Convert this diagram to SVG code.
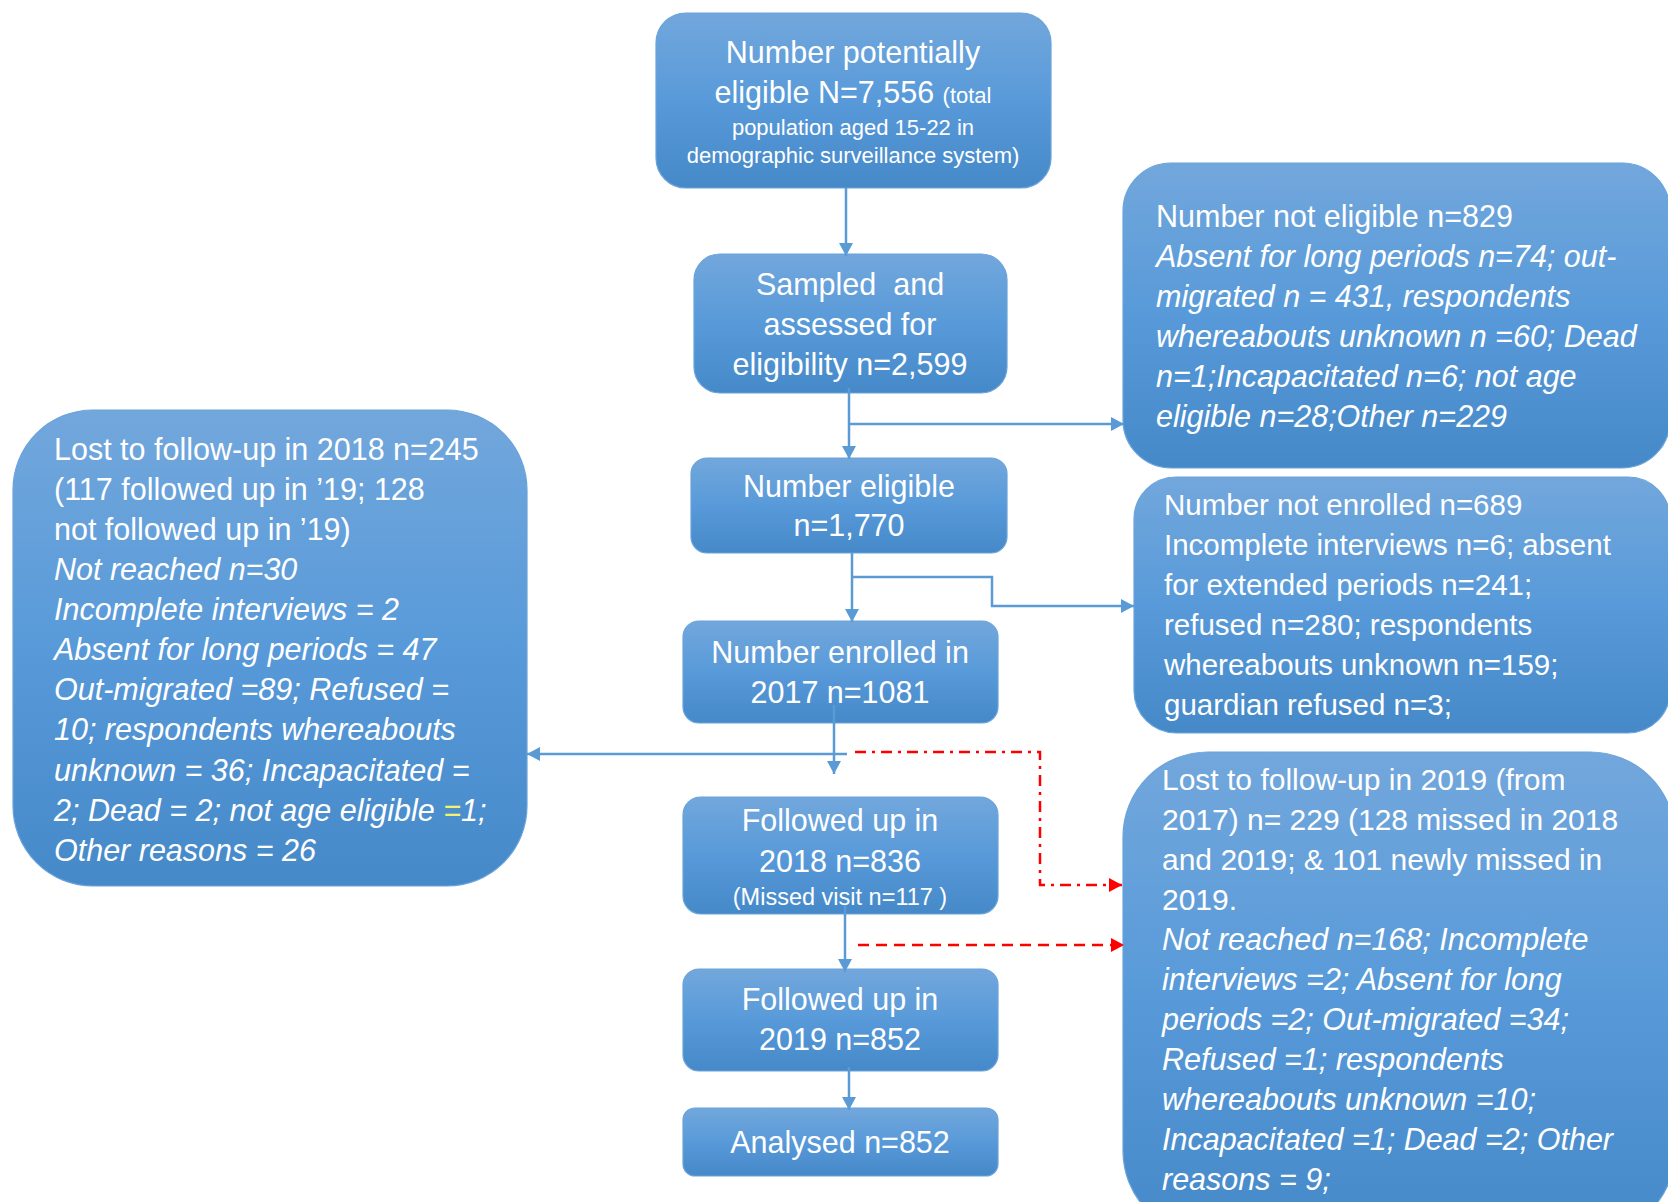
<svg xmlns="http://www.w3.org/2000/svg" width="1668" height="1202" viewBox="0 0 1668 1202">
  <defs>
    <linearGradient id="boxGrad" x1="0" y1="0" x2="0" y2="1">
      <stop offset="0" stop-color="#72A7DC"/>
      <stop offset="0.5" stop-color="#589AD9"/>
      <stop offset="1" stop-color="#4689C8"/>
    </linearGradient>
    <marker id="arrBlue" markerUnits="userSpaceOnUse" markerWidth="14" markerHeight="14" refX="13" refY="7" orient="auto">
      <path d="M0,0 L13,7 L0,14 z" fill="#5B9BD5"/>
    </marker>
    <marker id="arrRed" markerUnits="userSpaceOnUse" markerWidth="14" markerHeight="14" refX="13" refY="7" orient="auto">
      <path d="M0,0 L13,7 L0,14 z" fill="#FF0000"/>
    </marker>
  </defs>
  <style>
    .box { fill: url(#boxGrad); stroke: #6AA3DA; stroke-width: 1.2; }
    .t { font-family: "Liberation Sans", Arial, sans-serif; fill: #FFFFFF; font-size: 30.5px; }
    .c { text-anchor: middle; }
    .sm { font-size: 22px; }
    .it { font-style: italic; }
    .r30 { font-size: 30px; }
    .r295 { font-size: 29.5px; }
    .conn { fill: none; stroke: #5B9BD5; stroke-width: 2.5; }
    .red { fill: none; stroke: #FF0000; stroke-width: 2.5; }
  </style>
  <rect width="1668" height="1202" fill="#FFFFFF"/>

  <g id="node-potential">
    <rect class="box" x="656" y="13" width="395" height="175" rx="30"/>
    <text class="t c" x="853" y="63">Number potentially</text>
    <text class="t c" x="853" y="103">eligible N=7,556 <tspan class="sm">(total</tspan></text>
    <text class="t c sm" x="853" y="135">population aged 15-22 in</text>
    <text class="t c sm" x="853" y="163">demographic surveillance system)</text>
  </g>

  <g id="node-sampled">
    <rect class="box" x="694" y="254" width="313" height="139" rx="26"/>
    <text class="t c" x="850" y="295" xml:space="preserve">Sampled  and</text>
    <text class="t c" x="850" y="335">assessed for</text>
    <text class="t c" x="850" y="375">eligibility n=2,599</text>
  </g>

  <g id="node-not-eligible">
    <rect class="box" x="1123" y="163" width="547" height="305" rx="48"/>
    <text class="t" x="1156" y="227">Number not eligible n=829</text>
    <text class="t it" x="1156" y="267">Absent for long periods n=74; out-</text>
    <text class="t it" x="1156" y="307">migrated n = 431, respondents</text>
    <text class="t it" x="1156" y="347">whereabouts unknown n =60; Dead</text>
    <text class="t it" x="1156" y="387">n=1;Incapacitated n=6; not age</text>
    <text class="t it" x="1156" y="427">eligible n=28;Other n=229</text>
  </g>

  <g id="node-eligible">
    <rect class="box" x="691" y="458" width="316" height="95" rx="16"/>
    <text class="t c" x="849" y="497">Number eligible</text>
    <text class="t c" x="849" y="536">n=1,770</text>
  </g>

  <g id="node-not-enrolled">
    <rect class="box" x="1134" y="477" width="536" height="256" rx="42"/>
    <text class="t r295" x="1164" y="515">Number not enrolled n=689</text>
    <text class="t r295" x="1164" y="555">Incomplete interviews n=6; absent</text>
    <text class="t r295" x="1164" y="595">for extended periods n=241;</text>
    <text class="t r295" x="1164" y="635">refused n=280; respondents</text>
    <text class="t r295" x="1164" y="675">whereabouts unknown n=159;</text>
    <text class="t r295" x="1164" y="715">guardian refused n=3;</text>
  </g>

  <g id="node-enrolled">
    <rect class="box" x="683" y="621" width="315" height="102" rx="16"/>
    <text class="t c" x="840" y="663">Number enrolled in</text>
    <text class="t c" x="840" y="703">2017 n=1081</text>
  </g>

  <g id="node-lost-2018">
    <rect class="box" x="13" y="410" width="514" height="476" rx="80"/>
    <text class="t" x="54" y="460">Lost to follow-up in 2018 n=245</text>
    <text class="t" x="54" y="500">(117 followed up in ’19; 128</text>
    <text class="t" x="54" y="540">not followed up in ’19)</text>
    <text class="t it" x="54" y="580">Not reached n=30</text>
    <text class="t it" x="54" y="620">Incomplete interviews = 2</text>
    <text class="t it" x="54" y="660">Absent for long periods = 47</text>
    <text class="t it" x="54" y="700">Out-migrated =89; Refused =</text>
    <text class="t it" x="54" y="740">10; respondents whereabouts</text>
    <text class="t it" x="54" y="781">unknown = 36; Incapacitated =</text>
    <text class="t it" x="54" y="821">2; Dead = 2; not age eligible <tspan fill="#F4F26A">=</tspan>1;</text>
    <text class="t it" x="54" y="861">Other reasons = 26</text>
  </g>

  <g id="node-followed-2018">
    <rect class="box" x="683" y="797" width="315" height="117" rx="18"/>
    <text class="t c" x="840" y="831">Followed up in</text>
    <text class="t c" x="840" y="872">2018 n=836</text>
    <text class="t c" style="font-size:23.5px" x="840" y="905">(Missed visit n=117 )</text>
  </g>

  <g id="node-lost-2019">
    <rect class="box" x="1123" y="752" width="552" height="484" rx="85"/>
    <text class="t r30" x="1162" y="790">Lost to follow-up in 2019 (from</text>
    <text class="t r30" x="1162" y="830">2017) n= 229 (128 missed in 2018</text>
    <text class="t r30" x="1162" y="870">and 2019; &amp; 101 newly missed in</text>
    <text class="t r30" x="1162" y="910">2019.</text>
    <text class="t it" x="1162" y="950">Not reached n=168; Incomplete</text>
    <text class="t it" x="1162" y="990">interviews =2; Absent for long</text>
    <text class="t it" x="1162" y="1030">periods =2; Out-migrated =34;</text>
    <text class="t it" x="1162" y="1070">Refused =1; respondents</text>
    <text class="t it" x="1162" y="1110">whereabouts unknown =10;</text>
    <text class="t it" x="1162" y="1150">Incapacitated =1; Dead =2; Other</text>
    <text class="t it" x="1162" y="1190">reasons = 9;</text>
  </g>

  <g id="node-followed-2019">
    <rect class="box" x="683" y="969" width="315" height="102" rx="16"/>
    <text class="t c" x="840" y="1010">Followed up in</text>
    <text class="t c" x="840" y="1050">2019 n=852</text>
  </g>

  <g id="node-analysed">
    <rect class="box" x="683" y="1108" width="315" height="68" rx="12"/>
    <text class="t c" x="840" y="1153">Analysed n=852</text>
  </g>

  <g id="connectors">
    <path class="conn" d="M846,188 L846,256" marker-end="url(#arrBlue)"/>
    <path class="conn" d="M849,388 L849,459" marker-end="url(#arrBlue)"/>
    <path class="conn" d="M849,424 L1124,424" marker-end="url(#arrBlue)"/>
    <path class="conn" d="M852,553 L852,622" marker-end="url(#arrBlue)"/>
    <path class="conn" d="M852,577 L992,577 L992,606 L1134,606" marker-end="url(#arrBlue)"/>
    <path class="conn" d="M834,705 L834,774" marker-end="url(#arrBlue)"/>
    <path class="conn" d="M847,754 L527,754" marker-end="url(#arrBlue)"/>
    <path class="red" d="M855,752 L1040,752 L1040,885 L1122,885" stroke-dasharray="11 6 3 6" marker-end="url(#arrRed)"/>
    <path class="conn" d="M845,905 L845,972" marker-end="url(#arrBlue)"/>
    <path class="red" d="M858,945 L1124,945" stroke-dasharray="11 7" marker-end="url(#arrRed)"/>
    <path class="conn" d="M849,1067 L849,1110" marker-end="url(#arrBlue)"/>
  </g>
</svg>
